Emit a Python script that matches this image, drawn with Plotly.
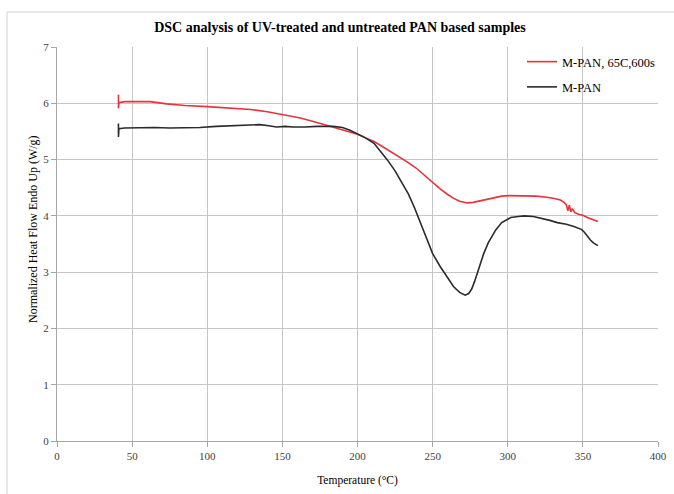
import plotly.graph_objects as go

# Red series: M-PAN, 65C,600s
red_T = [40.9, 40.9, 41.2, 45, 51, 62, 73, 85, 100, 115, 129, 140, 151, 162, 173, 184, 189, 195, 200,
         205, 211, 216, 222, 228, 233, 239, 244, 250, 255, 260, 264, 268, 273, 277, 282, 287, 291,
         296, 301, 307, 313, 319, 326, 331, 335, 337.5, 339, 340, 341, 342, 343, 344.5, 347, 350,
         353, 356.5, 360]
red_y = [6.15, 5.91, 6.01, 6.03, 6.03, 6.03, 5.99, 5.96, 5.94, 5.92, 5.89, 5.85, 5.80, 5.74, 5.66,
         5.58, 5.54, 5.49, 5.45, 5.39, 5.32, 5.24, 5.14, 5.05, 4.96, 4.85, 4.73, 4.60, 4.48, 4.38,
         4.31, 4.26, 4.23, 4.24, 4.27, 4.30, 4.33, 4.35, 4.36, 4.36, 4.36, 4.35, 4.33, 4.31, 4.28,
         4.24, 4.20, 4.09, 4.19, 4.07, 4.13, 4.06, 4.03, 4.01, 3.97, 3.94, 3.90]

# Black series: M-PAN
blk_T = [40.9, 40.9, 41.2, 45, 55, 65, 75, 84, 95, 106, 120, 135, 141, 146, 152, 157, 165, 173, 184,
         190, 195, 200, 205, 211, 215, 220, 225, 229, 234, 238, 244, 250, 255, 260, 264, 268, 271.6,
         274, 276, 278, 280, 282, 284, 287, 289, 292, 296, 302, 307, 311, 317, 322, 328, 333, 339,
         344, 349, 351, 353, 355, 357, 360]
blk_y = [5.64, 5.40, 5.55, 5.56, 5.57, 5.57, 5.56, 5.56, 5.57, 5.59, 5.61, 5.62, 5.60, 5.58, 5.59,
         5.58, 5.58, 5.59, 5.59, 5.57, 5.52, 5.45, 5.39, 5.29, 5.16, 4.99, 4.80, 4.62, 4.38, 4.14,
         3.75, 3.33, 3.10, 2.90, 2.74, 2.64, 2.59, 2.62, 2.70, 2.84, 3.00, 3.18, 3.33, 3.52, 3.62,
         3.75, 3.88, 3.97, 3.99, 4.00, 3.99, 3.96, 3.92, 3.88, 3.85, 3.81, 3.76, 3.71, 3.63, 3.57,
         3.52, 3.47]

x_ticks = [0, 50, 100, 150, 200, 250, 300, 350, 400]
y_ticks = [0, 1, 2, 3, 4, 5, 6, 7]

series_names = ["M-PAN, 65C,600s", "M-PAN"]
title_text = "DSC analysis of UV-treated and untreated PAN based samples"
x_title = "Temperature (°C)"
y_title = "Normalized Heat Flow Endo Up (W/g)"

FONT = "Liberation Serif, Times New Roman, serif"

W, H = 674, 494
ML, MR, MT, MB = 57, 16, 47, 53
PW, PH = W - ML - MR, H - MT - MB

fig = go.Figure()
fig.add_trace(go.Scatter(x=red_T, y=red_y, mode="lines", name=series_names[0], legendgroup="a",
                         line=dict(color="#e8323c", width=1.6)))
fig.add_trace(go.Scatter(x=blk_T, y=blk_y, mode="lines", name=series_names[1], legendgroup="b",
                         line=dict(color="#2b2b2b", width=1.6)))

axis_common = dict(
    showgrid=True, gridcolor="#c6c6c6", gridwidth=1,
    showline=True, linecolor="#a6a6a6", linewidth=1,
    ticks="outside", ticklen=5, tickcolor="#a6a6a6",
    tickfont=dict(family=FONT, size=11, color="#404040"),
    zeroline=False, fixedrange=True, automargin=False,
)

fig.update_layout(
    width=W, height=H,
    margin=dict(l=ML, r=MR, t=MT, b=MB),
    paper_bgcolor="white", plot_bgcolor="white",
    title=dict(text="<b>" + title_text + "</b>", x=340 / W, xref="container", xanchor="center",
               y=1 - 27 / H, yanchor="middle",
               font=dict(family=FONT, size=14, color="#000000")),
    xaxis=dict(range=[0, 400], tickvals=x_ticks,
               title=dict(text=x_title, font=dict(family=FONT, size=11.5, color="#000000"), standoff=14),
               **axis_common),
    yaxis=dict(range=[0, 7], tickvals=y_ticks, **axis_common),
    legend=dict(x=(522 - ML) / PW, y=(H - MB - 47) / PH, xanchor="left", yanchor="top",
                bgcolor="rgba(255,255,255,0)",
                font=dict(family=FONT, size=12.5, color="#000000"), tracegroupgap=6,
                itemwidth=30),
    showlegend=True,
)

# y-axis title as an annotation so its position can be matched
fig.add_annotation(text=y_title, textangle=-90, xref="paper", yref="paper",
                   x=(33 - ML) / PW, y=(H - MB - 229) / PH, xanchor="center", yanchor="middle",
                   showarrow=False, font=dict(family=FONT, size=12, color="#000000"))

# light frame around the chart area
fig.add_shape(type="rect", xref="paper", yref="paper",
              x0=(7 - ML) / PW, x1=(700 - ML) / PW,
              y0=(H - MB - 520) / PH, y1=(H - MB - 12) / PH,
              line=dict(color="#d0d0d0", width=1), layer="below")

fig.write_html("out.html")
